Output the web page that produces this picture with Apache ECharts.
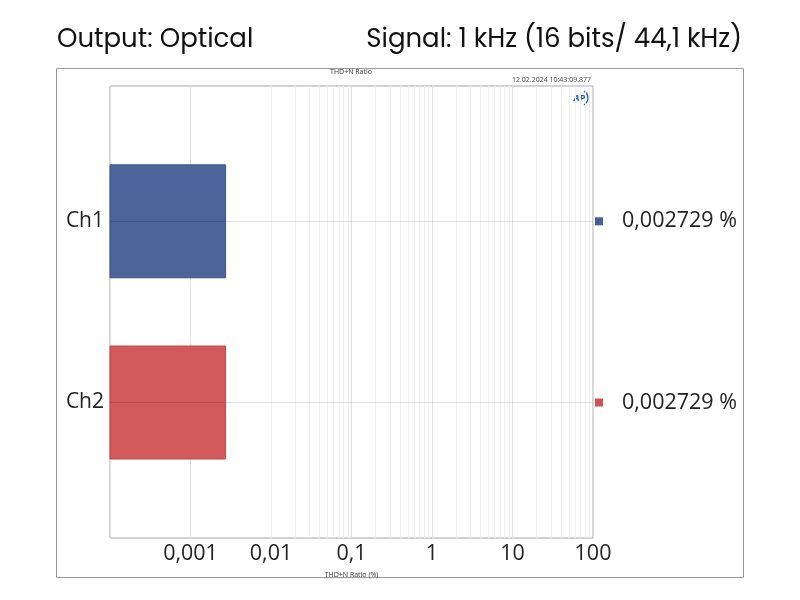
<!DOCTYPE html>
<html>
<head>
<meta charset="utf-8">
<script src="https://cdn.jsdelivr.net/npm/echarts@6/dist/echarts.min.js"></script>
<style>html,body{margin:0;padding:0;background:#fff}#c{width:800px;height:600px}</style>
</head>
<body>
<div id="c"></div>
<script>
const categories = ['Ch1', 'Ch2'];
const thdValues = [0.002729, 0.002729];
const barColors = ['#465e96', '#d05252'];
const barBorders = ['#3b5189', '#bf4646'];
const xMin = 0.0001, xMax = 100;
const headerLeft = 'Output: Optical';
const headerRight = 'Signal: 1 kHz (16 bits/ 44,1 kHz)';
const plotTitle = 'THD+N Ratio';
const timeStamp = '12.02.2024 10:43:09.877';
const xAxisName = 'THD+N Ratio (%)';

const fmt = v => String(v).replace('.', ',');

// minor log gridlines (2..9 per decade)
const minorLines = [];
for (let e = -4; e < 2; e++) {
  for (let k = 2; k <= 9; k++) minorLines.push({ xAxis: k * Math.pow(10, e) });
}

const chart = echarts.init(document.getElementById('c'));
const labelFont = '"Open Sans", "Noto Sans", sans-serif';
const headFont = '"Poppins", "Lato", "Open Sans", sans-serif';

chart.setOption({
  animation: false,
  backgroundColor: '#fff',
  grid: [
    { left: 110, top: 86, width: 483, height: 452, show: true, borderColor: '#a8a8a8', borderWidth: 1, backgroundColor: 'transparent' },
    { left: 110, top: 130.7, width: 483, height: 362.4 }
  ],
  xAxis: [
    {
      type: 'log', gridIndex: 0, min: xMin, max: xMax, logBase: 10, splitNumber: 6,
      axisLine: { show: false }, axisTick: { show: false },
      axisLabel: {
        fontSize: 21.5, color: '#222', fontFamily: labelFont, margin: 5,
        showMinLabel: true, showMaxLabel: true,
        formatter: v => (v < 0.0009 ? '' : fmt(v))
      },
      splitLine: { show: true, lineStyle: { color: '#e0e0e0', width: 1 } },
      name: xAxisName, nameLocation: 'middle', nameGap: 33,
      nameTextStyle: { fontSize: 7, color: '#333', fontFamily: labelFont }
    },
    {
      type: 'log', gridIndex: 1, min: xMin, max: xMax, logBase: 10, show: false
    }
  ],
  yAxis: [
    { type: 'value', gridIndex: 0, min: 0, max: 1, show: false, splitLine: { show: false } },
    {
      type: 'category', gridIndex: 1, data: categories, inverse: true,
      axisLine: { show: false }, axisTick: { show: false }, splitLine: { show: false },
      axisLabel: { fontSize: 21, color: '#222', fontFamily: labelFont, margin: 6 }
    },
    {
      type: 'category', gridIndex: 1, data: categories, inverse: true, position: 'right',
      axisLine: { show: false }, axisTick: { show: false }, splitLine: { show: false },
      axisLabel: {
        margin: 2, align: 'left',
        formatter: (val, idx) => '{s' + idx + '|}{g|}{t|' + fmt(thdValues[idx]) + ' %}',
        rich: {
          s0: { width: 8, height: 8, backgroundColor: barColors[0] },
          s1: { width: 8, height: 8, backgroundColor: barColors[1] },
          g: { width: 19 },
          t: { fontSize: 21.5, color: '#222', fontFamily: labelFont }
        }
      }
    }
  ],
  series: [
    {
      type: 'line', xAxisIndex: 0, yAxisIndex: 0, data: [], silent: true,
      markLine: {
        silent: true, symbol: 'none', label: { show: false },
        lineStyle: { color: '#f0f0f0', width: 1, type: 'solid' },
        data: minorLines
      }
    },
    {
      type: 'custom', xAxisIndex: 1, yAxisIndex: 1, z: 2,
      data: thdValues.map((v, i) => [v, i]),
      renderItem: (params, api) => {
        const idx = api.value(1);
        const start = api.coord([xMin, idx]);
        const end = api.coord([api.value(0), idx]);
        const h = api.size([0, 1])[1] * (113 / 181.2);
        return {
          type: 'rect',
          shape: { x: start[0], y: start[1] - h / 2, width: end[0] - start[0], height: h },
          style: { fill: barColors[idx], stroke: barBorders[idx], lineWidth: 1, opacity: 0.96 }
        };
      }
    },
    {
      type: 'line', xAxisIndex: 1, yAxisIndex: 1, data: [], silent: true, z: 3,
      markLine: {
        silent: true, symbol: 'none', label: { show: false },
        lineStyle: { color: 'rgba(0,0,0,0.12)', width: 1, type: 'solid' },
        data: categories.map(c => ({ yAxis: c }))
      }
    }
  ],
  graphic: [
    { type: 'rect', shape: { x: 56.5, y: 68.5, width: 687, height: 509 }, style: { fill: null, stroke: '#9a9a9a', lineWidth: 1 }, z: -1 },
    { type: 'text', left: 57, top: 27, style: { text: headerLeft, fontSize: 26, fill: '#111', fontFamily: headFont } },
    { type: 'text', right: 58, top: 27, style: { text: headerRight, fontSize: 26, fill: '#111', fontFamily: headFont } },
    { type: 'text', x: 351, y: 72, style: { text: plotTitle, fontSize: 7, fill: '#333', align: 'center', verticalAlign: 'middle', fontFamily: labelFont } },
    { type: 'text', x: 591, y: 80, style: { text: timeStamp, fontSize: 7, fill: '#444', align: 'right', verticalAlign: 'middle', fontFamily: labelFont } },
    { type: 'text', x: 585, y: 98, style: { text: 'AP', fontSize: 9, fontWeight: 'bold', fontStyle: 'italic', fill: '#1f5aa6', align: 'right', verticalAlign: 'middle', fontFamily: labelFont } },
    { type: 'arc', shape: { cx: 580, cy: 98, r: 8, startAngle: -Math.PI / 3, endAngle: Math.PI / 3 }, style: { stroke: '#1f5aa6', lineWidth: 1.3, fill: null } }
  ]
});
</script>
</body>
</html>
